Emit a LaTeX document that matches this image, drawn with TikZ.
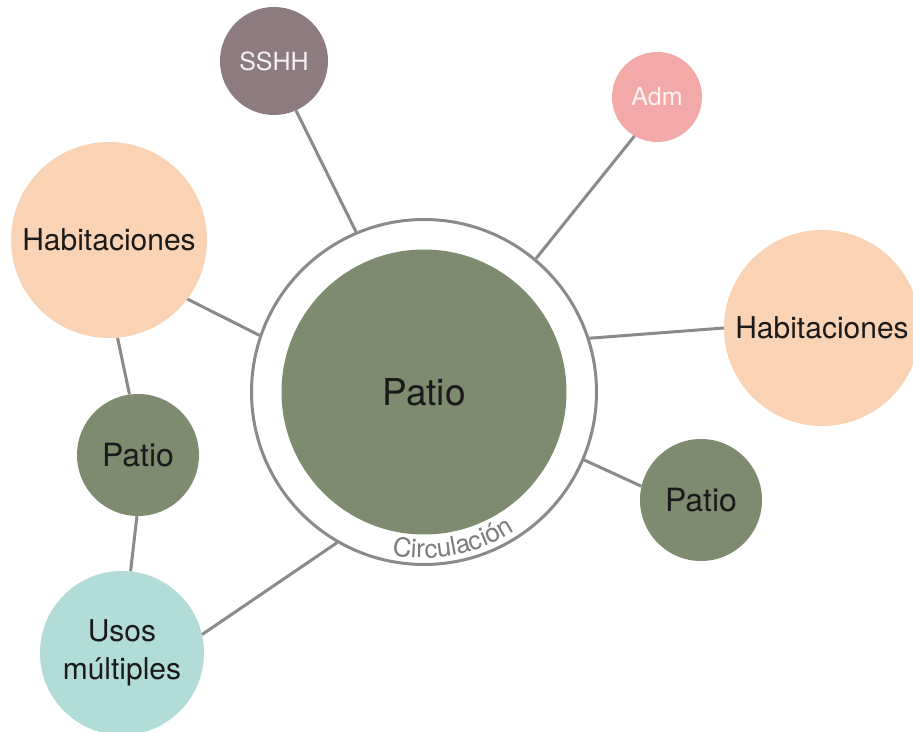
\documentclass[tikz,border=0pt]{standalone}
\usepackage{fontspec}
\setmainfont{TeX Gyre Heros}
\usetikzlibrary{decorations.text,calc}
\definecolor{patiogreen}{HTML}{7F8B6E}
\definecolor{habpeach}{HTML}{F9D3B3}
\definecolor{sshhcol}{HTML}{8E7B7F}
\definecolor{admcol}{HTML}{F2A9A8}
\definecolor{usoscol}{HTML}{B2DCD7}
\definecolor{linegray}{HTML}{8A8A8A}
\definecolor{txtdark}{HTML}{1A1A1A}
\tikzset{
  bubble/.style={circle, inner sep=0pt, draw=none, text=txtdark, align=center},
  link/.style={draw=linegray, line width=3pt},
}
\begin{document}
\begin{tikzpicture}[x=1pt,y=1pt]
\path[use as bounding box, clip] (0,0) rectangle (913,731);
\fill[white] (0,0) rectangle (913,731);
% central ring and patio
\node[circle, draw=linegray, line width=3pt, minimum size=345pt, inner sep=0pt] (ring) at (424,339) {};
\node[bubble, fill=patiogreen, minimum size=285pt, font=\fontsize{37}{40}\selectfont] (patio) at (424,339) {Patio};
% satellites
\node[bubble, fill=sshhcol, minimum size=108pt, text={white!90!sshhcol}, font=\fontsize{25}{28}\selectfont] (sshh) at (274,670) {SSHH};
\node[bubble, fill=admcol, minimum size=90pt, text={white!85!admcol}, font=\fontsize{25}{28}\selectfont] (adm) at (657,634) {Adm};
\node[bubble, fill=habpeach, minimum size=196pt, font=\fontsize{30}{34}\selectfont] (habl) at (109,491) {Habitaciones};
\node[bubble, fill=habpeach, minimum size=196pt, font=\fontsize{30}{34}\selectfont] (habr) at (822,403) {Habitaciones};
\node[bubble, fill=patiogreen, minimum size=122pt, font=\fontsize{32}{36}\selectfont] (patiol) at (138,276) {Patio};
\node[bubble, fill=patiogreen, minimum size=122pt, font=\fontsize{32}{36}\selectfont] (patior) at (701,231) {Patio};
\node[bubble, fill=usoscol, minimum size=164pt, font=\fontsize{30}{38}\selectfont] (usos) at (122,78) {Usos\\múltiples};
% connectors
\draw[link] (sshh.-66) -- (ring.113);
\draw[link] (adm.-120) -- (ring.50);
\draw[link] (habl.-37) -- (ring.161);
\draw[link] (habr.180) -- (ring.18);
\draw[link] (patior.167) -- (ring.-23);
\draw[link] (usos.13) -- (ring.-120);
\draw[link] (habl.-85) -- (patiol.98);
\draw[link] (patiol.-91) -- (usos.84);
% label along ring
\path[decorate, decoration={text along path, text align=center,
  text={|\fontsize{26}{30}\selectfont\color{linegray!90!black}|Circulación}}]
  ($(ring.center)+(-114:166)$) arc[start angle=-114, end angle=-44, radius=166];
\end{tikzpicture}
\end{document}
